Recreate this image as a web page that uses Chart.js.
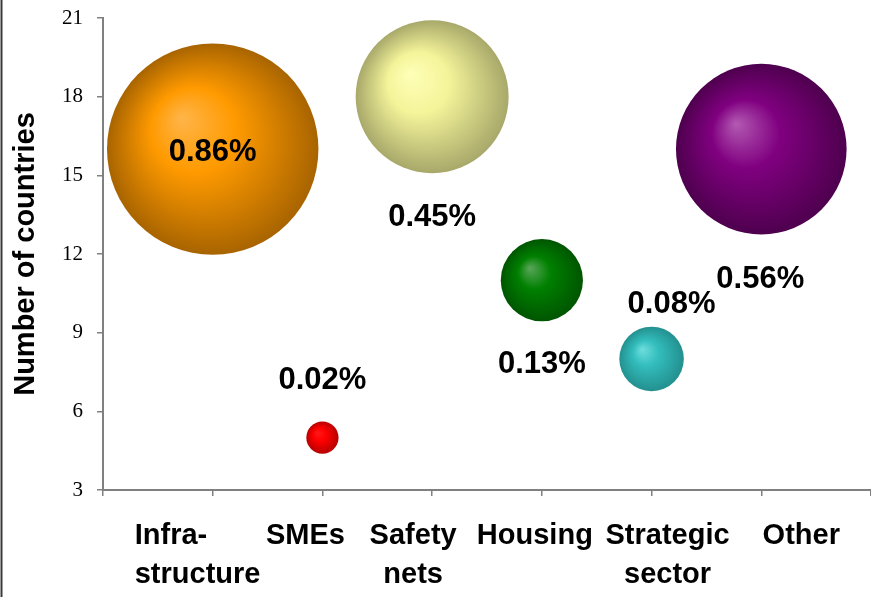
<!DOCTYPE html>
<html>
<head>
<meta charset="utf-8">
<script src="https://cdn.jsdelivr.net/npm/chart.js@4.4.1/dist/chart.umd.min.js"></script>
<style>
  html, body { margin: 0; padding: 0; background: #fff; }
  #wrap { width: 871px; height: 597px; }
</style>
</head>
<body>
<div id="wrap"><canvas id="bubbleCanvas" width="871" height="597"></canvas></div>
<script>
// ---------- data ----------
const categories = [['Infra-', 'structure'], ['SMEs'], ['Safety', 'nets'], ['Housing'], ['Strategic', 'sector'], ['Other']];
const countries = [16, 5, 18, 11, 8, 16];          // y: number of countries
const shareGdp = [0.86, 0.02, 0.45, 0.13, 0.08, 0.56]; // bubble size, % of GDP
const yTicks = [3, 6, 9, 12, 15, 18, 21];

// ---------- styles ----------
// [highlight, mid, edge] for each bubble
const palette = [
    ['#ffb54a', '#ff9a00', '#a86400'],
    ['#ff1a1a', '#ff0000', '#b80000'],
    ['#ffffb8', '#f4f49a', '#a8a86a'],
    ['#5aa65a', '#008000', '#005500'],
    ['#6fdede', '#33bdbd', '#23908f'],
    ['#b35ab3', '#800080', '#4e004e']
];
// label placement relative to bubble centre (px)
const labelShift = [[0, 3], [0, -57], [0, 121], [0, 84], [20, -54], [-1, 130]];
// x label anchors relative to tick (px) and alignment
const catShift = [[-78, 'left'], [-17, 'center'], [-19, 'center'], [-7, 'center'], [16, 'center'], [40, 'center']];
const sizeScale = 114;

const points = countries.map((c, i) => ({ x: i + 1, y: c, r: sizeScale * Math.sqrt(shareGdp[i]) }));

function bubbleFill(ctx) {
    const chart = ctx.chart;
    const i = ctx.dataIndex;
    if (!chart.chartArea || i === undefined) return palette[0][1];
    const p = points[i];
    const cx = chart.scales.x.getPixelForValue(p.x);
    const cy = chart.scales.y.getPixelForValue(p.y);
    const hx = cx - 0.3 * p.r, hy = cy - 0.3 * p.r;
    const g = chart.ctx.createRadialGradient(hx, hy, 0, cx, cy, p.r);
    const c = palette[i];
    g.addColorStop(0, c[0]);
    g.addColorStop(0.4, c[1]);
    g.addColorStop(1, c[2]);
    return g;
}

const decor = {
    id: 'decor',
    beforeDraw(chart) {
        const c = chart.ctx;
        c.save();
        c.fillStyle = '#fff';
        c.fillRect(0, 0, chart.width, chart.height);
        c.restore();
    },
    afterDraw(chart) {
        const c = chart.ctx;
        const xs = chart.scales.x;
        c.save();
        // left frame line
        c.strokeStyle = '#3a3a3a';
        c.lineWidth = 2;
        c.beginPath();
        c.moveTo(1.5, 0);
        c.lineTo(1.5, chart.height);
        c.stroke();

        // value labels
        c.fillStyle = '#000';
        c.font = 'bold 31px "Liberation Sans", Arial, sans-serif';
        c.textAlign = 'center';
        c.textBaseline = 'middle';
        points.forEach((p, i) => {
            const px = xs.getPixelForValue(p.x) + labelShift[i][0];
            const py = chart.scales.y.getPixelForValue(p.y) + labelShift[i][1];
            c.fillText(shareGdp[i].toFixed(2) + '%', px, py);
        });

        // category labels
        c.font = 'bold 29px "Liberation Sans", Arial, sans-serif';
        categories.forEach((lines, i) => {
            const px = xs.getPixelForValue(i + 1) + catShift[i][0];
            c.textAlign = catShift[i][1];
            lines.forEach((t, k) => {
                c.fillText(t, px, 536 + k * 39);
            });
        });
        c.restore();
    }
};

new Chart(document.getElementById('bubbleCanvas'), {
    type: 'bubble',
    data: {
        datasets: [{
            data: points,
            backgroundColor: bubbleFill,
            borderWidth: 0,
            hoverBorderWidth: 0,
            clip: false
        }]
    },
    options: {
        responsive: false,
        animation: false,
        events: [],
        layout: { autoPadding: false, padding: { top: 18, right: 0, bottom: 0, left: 0 } },
        plugins: { legend: { display: false }, tooltip: { enabled: false } },
        scales: {
            x: {
                type: 'linear',
                min: 0, max: 7,
                afterFit: (s) => { s.height = 107; s.paddingLeft = 0; s.paddingRight = 0; },
                afterBuildTicks: (s) => { s.ticks = [0, 1, 2, 3, 4, 5, 6, 7].map(v => ({ value: v })); },
                ticks: { display: false },
                grid: { drawOnChartArea: false, drawTicks: true, tickLength: 6, color: '#808080', lineWidth: 1.5 },
                border: { color: '#808080', width: 2 }
            },
            y: {
                min: 3, max: 21,
                afterFit: (s) => { s.width = 103; s.paddingTop = 0; s.paddingBottom = 0; },
                afterBuildTicks: (s) => { s.ticks = yTicks.map(v => ({ value: v })); },
                ticks: {
                    padding: 14,
                    color: '#000',
                    font: { family: '"Liberation Serif", "Times New Roman", serif', size: 21 }
                },
                grid: { drawOnChartArea: false, drawTicks: true, tickLength: 6, color: '#808080', lineWidth: 1.5 },
                border: { color: '#808080', width: 2 },
                title: {
                    display: true,
                    text: 'Number of countries',
                    color: '#000',
                    padding: { top: 9, bottom: 0 },
                    font: { family: '"Liberation Sans", Arial, sans-serif', size: 29, weight: 'bold' }
                }
            }
        }
    },
    plugins: [decor]
});
</script>
</body>
</html>
